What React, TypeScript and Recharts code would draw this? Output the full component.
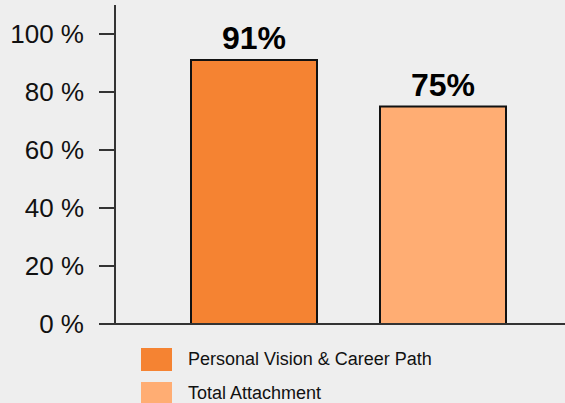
import { BarChart, Bar, XAxis, YAxis, LabelList } from 'recharts'

const categories = ['']
const seriesNames = ['Personal Vision & Career Path', 'Total Attachment']
const seriesValues = [91, 75]
const yTicks = [0, 20, 40, 60, 80, 100]
const COLORS = ['#f58332', '#ffad73']

const data = categories.map((c) => {
  const row: Record<string, string | number> = { name: c }
  seriesNames.forEach((s, i) => (row[s] = seriesValues[i]))
  return row
})

const FONT = "Arial, 'Liberation Sans', sans-serif"

export default function App() {
  return (
    <div
      style={{
        position: 'absolute',
        left: 0,
        top: 0,
        width: 565,
        height: 403,
        background: '#eeeeee',
        overflow: 'hidden',
        fontFamily: FONT,
      }}
    >
      <BarChart
        width={565}
        height={403}
        data={data}
        margin={{ top: 5, right: -16, left: 0, bottom: 77 }}
        barGap={63}
      >
        <XAxis
          dataKey="name"
          tick={false}
          tickLine={false}
          height={2}
          axisLine={{ stroke: '#333', strokeWidth: 2 }}
        />
        <YAxis
          width={115}
          domain={[0, 110]}
          ticks={yTicks}
          tickFormatter={(v) => `${v} %`}
          tickSize={16}
          tickMargin={15}
          axisLine={{ stroke: '#333', strokeWidth: 2 }}
          tickLine={{ stroke: '#333', strokeWidth: 2 }}
          tick={{ fill: '#111', fontSize: 26, fontFamily: FONT }}
        />
        {seriesNames.map((s, i) => (
          <Bar
            key={s}
            dataKey={s}
            fill={COLORS[i]}
            stroke="#111"
            strokeWidth={2}
            barSize={126}
            isAnimationActive={false}
          >
            <LabelList
              dataKey={s}
              position="top"
              offset={11}
              formatter={(v: number) => `${v}%`}
              fill="#000"
              fontSize={32}
              fontWeight="bold"
              fontFamily={FONT}
            />
          </Bar>
        ))}
      </BarChart>
      <div style={{ position: 'absolute', left: 141, top: 348 }}>
        {seriesNames.map((s, i) => (
          <div key={s} style={{ display: 'flex', alignItems: 'center', height: 23, marginBottom: 11 }}>
            <span style={{ width: 31, height: 23, background: COLORS[i], marginRight: 16 }} />
            <span style={{ fontSize: 18, color: '#111' }}>{s}</span>
          </div>
        ))}
      </div>
    </div>
  )
}
